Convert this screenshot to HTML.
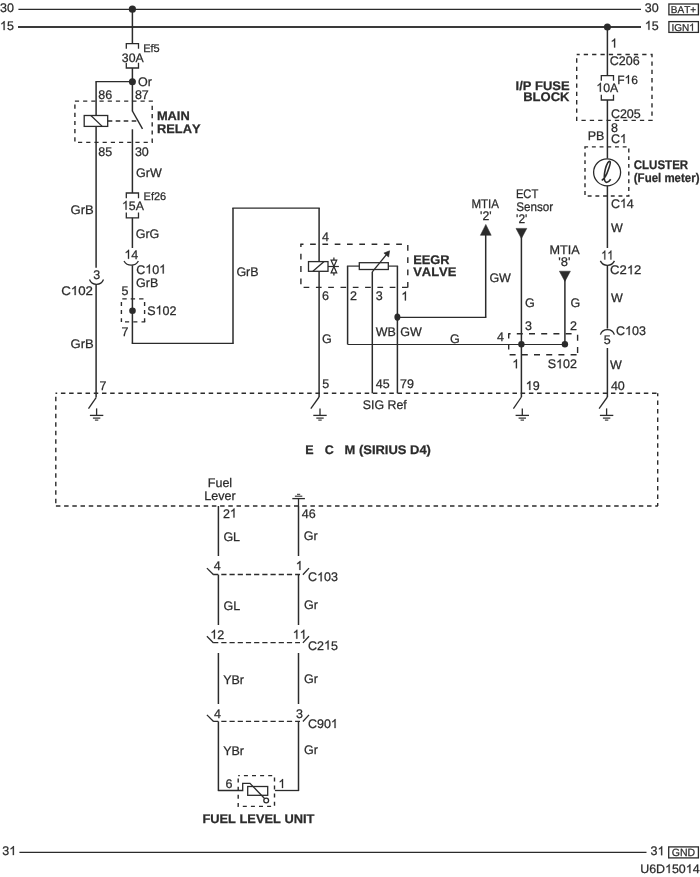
<!DOCTYPE html>
<html><head><meta charset="utf-8"><title>Wiring diagram</title>
<style>
html,body{margin:0;padding:0;background:#fff;}
svg{display:block;will-change:transform;filter:grayscale(1)}
text{font-family:"Liberation Sans",sans-serif;fill:#2b2b2b;stroke:#2b2b2b;stroke-width:0.25px;font-kerning:none;text-rendering:geometricPrecision}
</style></head><body>
<svg width="700" height="877" viewBox="0 0 700 877" stroke="#2b2b2b" fill="none">
<rect x="0" y="0" width="700" height="877" fill="#fff" stroke="none"/>
<line x1="18.4" y1="9.3" x2="641" y2="9.3" stroke-width="1.3"/>
<line x1="18" y1="27" x2="641" y2="27" stroke-width="2.0" stroke="#3a3a3a"/>
<line x1="19.4" y1="852.3" x2="646.5" y2="852.3" stroke-width="1.3"/>
<text x="0" y="12.4" font-size="12.5">30</text>
<g transform="translate(0,30.1)"><path transform="translate(0.0,0) scale(0.0125,-0.0125)" d="M372.6,0 L284.7,0 L284.7,560 Q252.9,529.8 201.4,499.5 Q149.9,469.2 108.9,454.1 L108.9,539 Q182.6,573.7 237.8,623 Q293,672.4 315.9,718.8 L372.6,718.8 Z" fill="#2b2b2b" stroke="#2b2b2b" stroke-width="20.0"/><text x="6.95" y="0" font-size="12.5">5</text></g>
<g transform="translate(2.3,855.1)"><text x="0.0" y="0" font-size="12.5">3</text><path transform="translate(6.95,0) scale(0.0125,-0.0125)" d="M372.6,0 L284.7,0 L284.7,560 Q252.9,529.8 201.4,499.5 Q149.9,469.2 108.9,454.1 L108.9,539 Q182.6,573.7 237.8,623 Q293,672.4 315.9,718.8 L372.6,718.8 Z" fill="#2b2b2b" stroke="#2b2b2b" stroke-width="20.0"/></g>
<text x="644.8" y="12.0" font-size="12.5">30</text>
<g transform="translate(644.8,29.8)"><path transform="translate(0.0,0) scale(0.0125,-0.0125)" d="M372.6,0 L284.7,0 L284.7,560 Q252.9,529.8 201.4,499.5 Q149.9,469.2 108.9,454.1 L108.9,539 Q182.6,573.7 237.8,623 Q293,672.4 315.9,718.8 L372.6,718.8 Z" fill="#2b2b2b" stroke="#2b2b2b" stroke-width="20.0"/><text x="6.95" y="0" font-size="12.5">5</text></g>
<g transform="translate(650.6,855.2)"><text x="0.0" y="0" font-size="12.5">3</text><path transform="translate(6.95,0) scale(0.0125,-0.0125)" d="M372.6,0 L284.7,0 L284.7,560 Q252.9,529.8 201.4,499.5 Q149.9,469.2 108.9,454.1 L108.9,539 Q182.6,573.7 237.8,623 Q293,672.4 315.9,718.8 L372.6,718.8 Z" fill="#2b2b2b" stroke="#2b2b2b" stroke-width="20.0"/></g>
<rect x="668.9" y="4" width="29.5" height="10.8" fill="none" stroke-width="1.3"/>
<text x="670.8" y="13.0" font-size="10">BAT+</text>
<rect x="668.9" y="21.6" width="29.5" height="10.8" fill="none" stroke-width="1.3"/>
<g transform="translate(671.4,30.7)"><text x="0.0" y="0" font-size="10">IGN</text><path transform="translate(17.78,0) scale(0.01,-0.01)" d="M372.6,0 L284.7,0 L284.7,560 Q252.9,529.8 201.4,499.5 Q149.9,469.2 108.9,454.1 L108.9,539 Q182.6,573.7 237.8,623 Q293,672.4 315.9,718.8 L372.6,718.8 Z" fill="#2b2b2b" stroke="#2b2b2b" stroke-width="25.0"/></g>
<rect x="668.7" y="846.9" width="29.7" height="11.0" fill="none" stroke-width="1.3"/>
<text x="671.8" y="856.1" font-size="10.5">GND</text>
<g transform="translate(640.2,873.1) scale(1.01,1)"><text x="0.0" y="0" font-size="12.3">U6D</text><path transform="translate(24.61,0) scale(0.0123,-0.0123)" d="M372.6,0 L284.7,0 L284.7,560 Q252.9,529.8 201.4,499.5 Q149.9,469.2 108.9,454.1 L108.9,539 Q182.6,573.7 237.8,623 Q293,672.4 315.9,718.8 L372.6,718.8 Z" fill="#2b2b2b" stroke="#2b2b2b" stroke-width="20.3"/><text x="31.45" y="0" font-size="12.3">50</text><path transform="translate(45.13,0) scale(0.0123,-0.0123)" d="M372.6,0 L284.7,0 L284.7,560 Q252.9,529.8 201.4,499.5 Q149.9,469.2 108.9,454.1 L108.9,539 Q182.6,573.7 237.8,623 Q293,672.4 315.9,718.8 L372.6,718.8 Z" fill="#2b2b2b" stroke="#2b2b2b" stroke-width="20.3"/><text x="51.97" y="0" font-size="12.3">4</text></g>
<circle cx="132.4" cy="9.2" r="3.6" fill="#2b2b2b" stroke="none"/>
<line x1="132.4" y1="9.2" x2="132.4" y2="43.6" stroke-width="1.5"/>
<path d="M126.30000000000001,48.800000000000004 V43.6 H138.5 V48.800000000000004" stroke-width="1.3" fill="none"/>
<path d="M126.30000000000001,62.8 V68 H138.5 V62.8" stroke-width="1.3" fill="none"/>
<text x="121.8" y="61.5" font-size="12.3">30A</text>
<text x="143.2" y="51.5" font-size="11">Ef5</text>
<line x1="132.4" y1="68" x2="132.4" y2="111.3" stroke-width="1.5"/>
<circle cx="132.4" cy="81.7" r="3.5" fill="#2b2b2b" stroke="none"/>
<text x="138" y="85.7" font-size="12.5">Or</text>
<line x1="95.39999999999999" y1="81.7" x2="132.4" y2="81.7" stroke-width="1.3"/>
<line x1="96.1" y1="81.7" x2="96.1" y2="267.8" stroke-width="1.5"/>
<text x="98.3" y="98.5" font-size="12.5">86</text>
<text x="134.9" y="98.5" font-size="12.5">87</text>
<rect x="74.9" y="101.1" width="77.3" height="41.3" fill="none" stroke-width="1.4" stroke-dasharray="4.2 4" stroke-dashoffset="0"/>
<rect x="84.2" y="115.5" width="23.5" height="10.9" fill="#fff" stroke-width="1.3"/>
<line x1="90.9" y1="115.5" x2="102.2" y2="126.4" stroke-width="1.3"/>
<line x1="107.7" y1="121" x2="137.5" y2="121" stroke-width="1.3" stroke-dasharray="4.6 3.4"/>
<line x1="132.4" y1="111" x2="142.5" y2="128.9" stroke-width="1.45"/>
<line x1="132.4" y1="129.3" x2="132.4" y2="193" stroke-width="1.5"/>
<g transform="translate(156.9,120.4) scale(1.0269,1)"><text x="0.0" y="0" font-size="12.5" font-weight="bold">MAIN</text></g>
<g transform="translate(156.9,133.2) scale(1.0292,1)"><text x="0.0" y="0" font-size="12.5" font-weight="bold">RELAY</text></g>
<text x="98.3" y="155.7" font-size="12.5">85</text>
<text x="134.9" y="155.7" font-size="12.5">30</text>
<text x="136" y="176.9" font-size="12.5">GrW</text>
<path d="M126.30000000000001,198.2 V193 H138.5 V198.2" stroke-width="1.3" fill="none"/>
<path d="M126.30000000000001,212.60000000000002 V217.8 H138.5 V212.60000000000002" stroke-width="1.3" fill="none"/>
<g transform="translate(122,209.7)"><path transform="translate(0.0,0) scale(0.0123,-0.0123)" d="M372.6,0 L284.7,0 L284.7,560 Q252.9,529.8 201.4,499.5 Q149.9,469.2 108.9,454.1 L108.9,539 Q182.6,573.7 237.8,623 Q293,672.4 315.9,718.8 L372.6,718.8 Z" fill="#2b2b2b" stroke="#2b2b2b" stroke-width="20.3"/><text x="6.84" y="0" font-size="12.3">5A</text></g>
<text x="143.6" y="200.3" font-size="11">Ef26</text>
<line x1="132.4" y1="217.8" x2="132.4" y2="248" stroke-width="1.5"/>
<g transform="translate(70.6,214.0) scale(1.044,1)"><text x="0.0" y="0" font-size="12.5">GrB</text></g>
<text x="135.7" y="237.7" font-size="12.5">GrG</text>
<g transform="translate(124.4,258.8)"><path transform="translate(0.0,0) scale(0.0125,-0.0125)" d="M372.6,0 L284.7,0 L284.7,560 Q252.9,529.8 201.4,499.5 Q149.9,469.2 108.9,454.1 L108.9,539 Q182.6,573.7 237.8,623 Q293,672.4 315.9,718.8 L372.6,718.8 Z" fill="#2b2b2b" stroke="#2b2b2b" stroke-width="20.0"/><text x="6.95" y="0" font-size="12.5">4</text></g>
<path d="M124,261 A8.3 8.3 0 0 0 138.4,261" stroke-width="1.3" fill="none"/>
<line x1="132.4" y1="265.2" x2="132.4" y2="343.4" stroke-width="1.5"/>
<g transform="translate(136.2,273.5)"><text x="0.0" y="0" font-size="12.5">C</text><path transform="translate(9.03,0) scale(0.0125,-0.0125)" d="M372.6,0 L284.7,0 L284.7,560 Q252.9,529.8 201.4,499.5 Q149.9,469.2 108.9,454.1 L108.9,539 Q182.6,573.7 237.8,623 Q293,672.4 315.9,718.8 L372.6,718.8 Z" fill="#2b2b2b" stroke="#2b2b2b" stroke-width="20.0"/><text x="15.98" y="0" font-size="12.5">0</text><path transform="translate(22.93,0) scale(0.0125,-0.0125)" d="M372.6,0 L284.7,0 L284.7,560 Q252.9,529.8 201.4,499.5 Q149.9,469.2 108.9,454.1 L108.9,539 Q182.6,573.7 237.8,623 Q293,672.4 315.9,718.8 L372.6,718.8 Z" fill="#2b2b2b" stroke="#2b2b2b" stroke-width="20.0"/></g>
<text x="136" y="286.9" font-size="12.5">GrB</text>
<text x="121.4" y="294.9" font-size="12.5">5</text>
<line x1="121.3" y1="298.9" x2="144.6" y2="298.9" stroke-width="1.4" stroke-dasharray="4.4 4" stroke-dashoffset="7.4"/>
<line x1="144.6" y1="298.9" x2="144.6" y2="322" stroke-width="1.4" stroke-dasharray="4 4.1" stroke-dashoffset="5"/>
<line x1="121.3" y1="321.9" x2="145.2" y2="321.9" stroke-width="1.4" stroke-dasharray="4.15 4.1" stroke-dashoffset="4.55"/>
<line x1="121.4" y1="298.9" x2="121.4" y2="322" stroke-width="1.4" stroke-dasharray="4 4.1" stroke-dashoffset="5"/>
<circle cx="132.5" cy="310.7" r="3.3" fill="#2b2b2b" stroke="none"/>
<g transform="translate(147.2,314.6)"><text x="0.0" y="0" font-size="12.5">S</text><path transform="translate(8.34,0) scale(0.0125,-0.0125)" d="M372.6,0 L284.7,0 L284.7,560 Q252.9,529.8 201.4,499.5 Q149.9,469.2 108.9,454.1 L108.9,539 Q182.6,573.7 237.8,623 Q293,672.4 315.9,718.8 L372.6,718.8 Z" fill="#2b2b2b" stroke="#2b2b2b" stroke-width="20.0"/><text x="15.29" y="0" font-size="12.5">02</text></g>
<text x="121.4" y="336.3" font-size="12.5">7</text>
<line x1="131.70000000000002" y1="343.4" x2="233.7" y2="343.4" stroke-width="1.2"/>
<line x1="233" y1="343.4" x2="233" y2="208.1" stroke-width="1.5"/>
<line x1="232.3" y1="208.1" x2="319.8" y2="208.1" stroke-width="1.2"/>
<line x1="319.1" y1="208.1" x2="319.1" y2="397" stroke-width="1.5"/>
<text x="93.3" y="279.3" font-size="12.5">3</text>
<path d="M89.5,279.5 A7.5 7.5 0 0 0 103.5,279.5" stroke-width="1.3" fill="none"/>
<g transform="translate(61.2,295.1) scale(1.0641,1)"><text x="0.0" y="0" font-size="12.5">C</text><path transform="translate(9.03,0) scale(0.0125,-0.0125)" d="M372.6,0 L284.7,0 L284.7,560 Q252.9,529.8 201.4,499.5 Q149.9,469.2 108.9,454.1 L108.9,539 Q182.6,573.7 237.8,623 Q293,672.4 315.9,718.8 L372.6,718.8 Z" fill="#2b2b2b" stroke="#2b2b2b" stroke-width="20.0"/><text x="15.98" y="0" font-size="12.5">02</text></g>
<line x1="96.1" y1="284.5" x2="96.1" y2="397.6" stroke-width="1.5"/>
<g transform="translate(70.6,348.3) scale(1.044,1)"><text x="0.0" y="0" font-size="12.5">GrB</text></g>
<text x="99.4" y="390.0" font-size="12.5">7</text>
<line x1="96.1" y1="397.6" x2="88.5" y2="408.6" stroke-width="1.3"/>
<line x1="96.6" y1="408.4" x2="96.6" y2="415.4" stroke-width="1.3"/>
<line x1="89.89999999999999" y1="415.4" x2="103.3" y2="415.4" stroke-width="1.3"/>
<line x1="92.89999999999999" y1="418.09999999999997" x2="100.3" y2="418.09999999999997" stroke-width="1.2"/>
<line x1="94.89999999999999" y1="420.09999999999997" x2="98.3" y2="420.09999999999997" stroke-width="1.1"/>
<line x1="55.5" y1="393.3" x2="657.9" y2="393.3" stroke-width="1.4" stroke-dasharray="4.5 3.71" stroke-dashoffset="2.8"/>
<line x1="55.9" y1="506" x2="657.9" y2="506" stroke-width="1.4" stroke-dasharray="4.5 3.71"/>
<line x1="657.7" y1="393.2" x2="657.7" y2="506" stroke-width="1.4" stroke-dasharray="4.5 4.06" stroke-dashoffset="1.36"/>
<line x1="55.8" y1="393.2" x2="55.8" y2="506" stroke-width="1.4" stroke-dasharray="4.5 4" stroke-dashoffset="5"/>
<text x="305.3" y="454.1" font-size="12.5" font-weight="bold">E</text>
<text x="324.7" y="454.1" font-size="12.5" font-weight="bold">C</text>
<g transform="translate(344.6,454.1) scale(1.0355,1)"><text x="0.0" y="0" font-size="12.5" font-weight="bold">M (SIRIUS D4)</text></g>
<g transform="translate(362.8,408.7) scale(0.9897,1)"><text x="0.0" y="0" font-size="12.5">SIG Ref</text></g>
<text x="322" y="241.2" font-size="12.5">4</text>
<text x="322" y="300.4" font-size="12.5">6</text>
<text x="322" y="343.1" font-size="12.5">G</text>
<line x1="300.3" y1="244.3" x2="407.8" y2="244.3" stroke-width="1.4" stroke-dasharray="5.7 6.6" stroke-dashoffset="2.5"/>
<line x1="407.8" y1="244.3" x2="407.8" y2="287.6" stroke-width="1.4" stroke-dasharray="5.7 6.6" stroke-dashoffset="11.6"/>
<line x1="300.9" y1="287.4" x2="408.4" y2="287.4" stroke-width="1.4" stroke-dasharray="5.7 6.6" stroke-dashoffset="9.6"/>
<line x1="300.9" y1="244.3" x2="300.9" y2="287.4" stroke-width="1.4" stroke-dasharray="5.8 6.6" stroke-dashoffset="3.0"/>
<rect x="308.5" y="261.6" width="19.5" height="9.7" fill="#fff" stroke-width="1.3"/>
<line x1="312.9" y1="271.3" x2="324.1" y2="261.6" stroke-width="1.3"/>
<line x1="328" y1="266.5" x2="338.9" y2="266.5" stroke-width="1.2"/>
<path d="M331.1,260.2 H336.7 L333.9,266.5 Z M331.1,272.9 H336.7 L333.9,266.5 Z M333.9,260.2 V257.5 M333.9,272.9 V275.6" stroke-width="1.25" fill="none"/>
<line x1="319.1" y1="397" x2="310.8" y2="408.6" stroke-width="1.3"/>
<line x1="320" y1="408.4" x2="320" y2="415.4" stroke-width="1.3"/>
<line x1="313.3" y1="415.4" x2="326.7" y2="415.4" stroke-width="1.3"/>
<line x1="316.3" y1="418.09999999999997" x2="323.7" y2="418.09999999999997" stroke-width="1.2"/>
<line x1="318.3" y1="420.09999999999997" x2="321.7" y2="420.09999999999997" stroke-width="1.1"/>
<text x="322.3" y="388.2" font-size="12.5">5</text>
<text x="236.4" y="276.4" font-size="12.5">GrB</text>
<line x1="347.6" y1="344.4" x2="347.6" y2="266.1" stroke-width="1.5"/>
<line x1="346.9" y1="266.1" x2="359.3" y2="266.1" stroke-width="1.2"/>
<rect x="359.3" y="262.7" width="29.0" height="6.8" fill="#fff" stroke-width="1.3"/>
<line x1="388.3" y1="266.1" x2="398.1" y2="266.1" stroke-width="1.2"/>
<line x1="397.4" y1="266.1" x2="397.4" y2="393.3" stroke-width="1.5"/>
<line x1="372.3" y1="271.8" x2="372.3" y2="393.3" stroke-width="1.5"/>
<line x1="372.3" y1="271.8" x2="387.5" y2="253.3" stroke-width="1.3"/>
<path d="M389.6,250.8 L388.6,257 L383.9,253.1 Z" stroke-width="0.6" fill="#2b2b2b"/>
<text x="349.9" y="300.4" font-size="12.5">2</text>
<text x="375.7" y="300.4" font-size="12.5">3</text>
<g transform="translate(401.3,300.4)"><path transform="translate(0.0,0) scale(0.0125,-0.0125)" d="M372.6,0 L284.7,0 L284.7,560 Q252.9,529.8 201.4,499.5 Q149.9,469.2 108.9,454.1 L108.9,539 Q182.6,573.7 237.8,623 Q293,672.4 315.9,718.8 L372.6,718.8 Z" fill="#2b2b2b" stroke="#2b2b2b" stroke-width="20.0"/></g>
<ellipse cx="397.4" cy="317.1" rx="3.0" ry="3.6" fill="#2b2b2b" stroke="none"/>
<line x1="397.4" y1="317.3" x2="486.4" y2="317.3" stroke-width="1.2"/>
<line x1="485.7" y1="317.3" x2="485.7" y2="234" stroke-width="1.5"/>
<path d="M485.8,224.4 L491.2,235.3 H480.4 Z" stroke-width="0.5" fill="#2b2b2b"/>
<text x="375.7" y="336.2" font-size="12.5">WB</text>
<text x="400.2" y="336.2" font-size="12.5">GW</text>
<line x1="347.6" y1="344.4" x2="564.9" y2="344.4" stroke-width="1.05"/>
<g transform="translate(413.2,263.5) scale(1.0275,1)"><text x="0.0" y="0" font-size="12.5" font-weight="bold">EEGR</text></g>
<g transform="translate(413.2,276.2) scale(1.0366,1)"><text x="0.0" y="0" font-size="12.5" font-weight="bold">VALVE</text></g>
<text x="375.7" y="388.2" font-size="12.5">45</text>
<text x="400" y="388.2" font-size="12.5">79</text>
<g transform="translate(471.4,208.3) scale(0.9244,1)"><text x="0.0" y="0" font-size="12.5">MTIA</text></g>
<g transform="translate(480.1,220.1) scale(0.9808,1)"><text x="0.0" y="0" font-size="12.5">'2'</text></g>
<text x="489.4" y="281.6" font-size="12.5">GW</text>
<g transform="translate(515.9,198.2) scale(0.896,1)"><text x="0.0" y="0" font-size="12.5">ECT</text></g>
<g transform="translate(516.2,211.4) scale(0.9342,1)"><text x="0.0" y="0" font-size="12.5">Sensor</text></g>
<g transform="translate(516.1,222.5) scale(0.9552,1)"><text x="0.0" y="0" font-size="12.5">'2'</text></g>
<path d="M516,228.4 H526.8 L521.4,238.6 Z" stroke-width="0.5" fill="#2b2b2b"/>
<line x1="521.4" y1="236" x2="521.4" y2="397" stroke-width="1.5"/>
<g transform="translate(549.4,254.4) scale(1.0114,1)"><text x="0.0" y="0" font-size="12.5">MTIA</text></g>
<g transform="translate(558.3,265.9) scale(1.0405,1)"><text x="0.0" y="0" font-size="12.5">'8'</text></g>
<path d="M559.4,271.2 H570.4 L564.9,281.4 Z" stroke-width="0.5" fill="#2b2b2b"/>
<line x1="564.9" y1="279" x2="564.9" y2="344.3" stroke-width="1.5"/>
<text x="524.9" y="307.3" font-size="12.5">G</text>
<text x="570.6" y="307.3" font-size="12.5">G</text>
<text x="524.9" y="329.6" font-size="12.5">3</text>
<text x="570" y="329.6" font-size="12.5">2</text>
<text x="497.1" y="341.2" font-size="12.5">4</text>
<text x="450" y="342.9" font-size="12.5">G</text>
<line x1="508.2" y1="333.8" x2="577.6" y2="333.8" stroke-width="1.4" stroke-dasharray="6 6.2" stroke-dashoffset="3.6"/>
<line x1="577.6" y1="333.8" x2="577.6" y2="354.8" stroke-width="1.4" stroke-dasharray="6 6.2" stroke-dashoffset="11.3"/>
<line x1="508.6" y1="354.8" x2="578" y2="354.8" stroke-width="1.5" stroke-dasharray="6 6.2" stroke-dashoffset="11.2"/>
<line x1="508.7" y1="333.8" x2="508.7" y2="354.8" stroke-width="1.4" stroke-dasharray="5 6" stroke-dashoffset="0.3"/>
<circle cx="521.4" cy="344.3" r="3.2" fill="#2b2b2b" stroke="none"/>
<circle cx="564.9" cy="344.3" r="3.2" fill="#2b2b2b" stroke="none"/>
<g transform="translate(512.3,368.3)"><path transform="translate(0.0,0) scale(0.0125,-0.0125)" d="M372.6,0 L284.7,0 L284.7,560 Q252.9,529.8 201.4,499.5 Q149.9,469.2 108.9,454.1 L108.9,539 Q182.6,573.7 237.8,623 Q293,672.4 315.9,718.8 L372.6,718.8 Z" fill="#2b2b2b" stroke="#2b2b2b" stroke-width="20.0"/></g>
<g transform="translate(547.7,368.3)"><text x="0.0" y="0" font-size="12.5">S</text><path transform="translate(8.34,0) scale(0.0125,-0.0125)" d="M372.6,0 L284.7,0 L284.7,560 Q252.9,529.8 201.4,499.5 Q149.9,469.2 108.9,454.1 L108.9,539 Q182.6,573.7 237.8,623 Q293,672.4 315.9,718.8 L372.6,718.8 Z" fill="#2b2b2b" stroke="#2b2b2b" stroke-width="20.0"/><text x="15.29" y="0" font-size="12.5">02</text></g>
<g transform="translate(525.7,389.9)"><path transform="translate(0.0,0) scale(0.0125,-0.0125)" d="M372.6,0 L284.7,0 L284.7,560 Q252.9,529.8 201.4,499.5 Q149.9,469.2 108.9,454.1 L108.9,539 Q182.6,573.7 237.8,623 Q293,672.4 315.9,718.8 L372.6,718.8 Z" fill="#2b2b2b" stroke="#2b2b2b" stroke-width="20.0"/><text x="6.95" y="0" font-size="12.5">9</text></g>
<line x1="521.4" y1="397" x2="513.4" y2="408.6" stroke-width="1.3"/>
<line x1="522.3" y1="408.4" x2="522.3" y2="415.4" stroke-width="1.3"/>
<line x1="515.5999999999999" y1="415.4" x2="529.0" y2="415.4" stroke-width="1.3"/>
<line x1="518.5999999999999" y1="418.09999999999997" x2="526.0" y2="418.09999999999997" stroke-width="1.2"/>
<line x1="520.5999999999999" y1="420.09999999999997" x2="524.0" y2="420.09999999999997" stroke-width="1.1"/>
<circle cx="607.4" cy="27" r="3.5" fill="#2b2b2b" stroke="none"/>
<line x1="607.4" y1="27" x2="607.4" y2="75.6" stroke-width="1.5"/>
<g transform="translate(610.5,47.5)"><path transform="translate(0.0,0) scale(0.0125,-0.0125)" d="M372.6,0 L284.7,0 L284.7,560 Q252.9,529.8 201.4,499.5 Q149.9,469.2 108.9,454.1 L108.9,539 Q182.6,573.7 237.8,623 Q293,672.4 315.9,718.8 L372.6,718.8 Z" fill="#2b2b2b" stroke="#2b2b2b" stroke-width="20.0"/></g>
<rect x="576.7" y="54.5" width="75.3" height="65.9" fill="none" stroke-width="1.4" stroke-dasharray="4.3 4.05" stroke-dashoffset="1.3"/>
<text x="609.8" y="65.1" font-size="12.5">C206</text>
<text x="610.9" y="118.0" font-size="12.5">C205</text>
<path d="M601.3,80.8 V75.6 H613.5 V80.8" stroke-width="1.3" fill="none"/>
<path d="M601.3,94.8 V100 H613.5 V94.8" stroke-width="1.3" fill="none"/>
<g transform="translate(596.3,91.7)"><path transform="translate(0.0,0) scale(0.0123,-0.0123)" d="M372.6,0 L284.7,0 L284.7,560 Q252.9,529.8 201.4,499.5 Q149.9,469.2 108.9,454.1 L108.9,539 Q182.6,573.7 237.8,623 Q293,672.4 315.9,718.8 L372.6,718.8 Z" fill="#2b2b2b" stroke="#2b2b2b" stroke-width="20.3"/><text x="6.84" y="0" font-size="12.3">0A</text></g>
<g transform="translate(617.2,83.7)"><text x="0.0" y="0" font-size="12">F</text><path transform="translate(7.33,0) scale(0.012,-0.012)" d="M372.6,0 L284.7,0 L284.7,560 Q252.9,529.8 201.4,499.5 Q149.9,469.2 108.9,454.1 L108.9,539 Q182.6,573.7 237.8,623 Q293,672.4 315.9,718.8 L372.6,718.8 Z" fill="#2b2b2b" stroke="#2b2b2b" stroke-width="20.8"/><text x="14.0" y="0" font-size="12">6</text></g>
<line x1="607.4" y1="100" x2="607.4" y2="158.6" stroke-width="1.5"/>
<g transform="translate(515.6,89.7) scale(1.0366,1)"><text x="0.0" y="0" font-size="12.5" font-weight="bold">I/P FUSE</text></g>
<g transform="translate(523.2,101.4) scale(1.0419,1)"><text x="0.0" y="0" font-size="12.5" font-weight="bold">BLOCK</text></g>
<text x="610.9" y="132.1" font-size="12.5">8</text>
<g transform="translate(610.9,143.1)"><text x="0.0" y="0" font-size="12.5">C</text><path transform="translate(9.03,0) scale(0.0125,-0.0125)" d="M372.6,0 L284.7,0 L284.7,560 Q252.9,529.8 201.4,499.5 Q149.9,469.2 108.9,454.1 L108.9,539 Q182.6,573.7 237.8,623 Q293,672.4 315.9,718.8 L372.6,718.8 Z" fill="#2b2b2b" stroke="#2b2b2b" stroke-width="20.0"/></g>
<text x="587.7" y="139.7" font-size="12.5">PB</text>
<rect x="585" y="146.9" width="43.8" height="49.1" fill="none" stroke-width="1.4" stroke-dasharray="3.9 3.8" stroke-dashoffset="0.8"/>
<circle cx="607.1" cy="172.3" r="13.5" fill="#fff" stroke-width="1.3"/>
<path d="M601.7,180.4 C604.5,178.9 606.8,174.5 608.3,169.8 C609.5,166 610.8,163.2 610.2,161.9 C609.7,160.9 608.5,161.5 607.7,162.9 C605.9,166.2 604.5,172.2 604.3,176.6 C604.1,180 605,182.4 606.6,182.4 C608,182.4 609.5,181.2 610.7,179.3" stroke-width="1.6" fill="none"/>
<g transform="translate(633.7,169.0) scale(0.9233,1)"><text x="0.0" y="0" font-size="12.5" font-weight="bold">CLUSTER</text></g>
<g transform="translate(633.8,182.2) scale(0.9184,1)"><text x="0.0" y="0" font-size="12.5" font-weight="bold">(Fuel meter)</text></g>
<line x1="607.4" y1="185.6" x2="607.4" y2="248" stroke-width="1.5"/>
<g transform="translate(610.9,207.7)"><text x="0.0" y="0" font-size="12.5">C</text><path transform="translate(9.03,0) scale(0.0125,-0.0125)" d="M372.6,0 L284.7,0 L284.7,560 Q252.9,529.8 201.4,499.5 Q149.9,469.2 108.9,454.1 L108.9,539 Q182.6,573.7 237.8,623 Q293,672.4 315.9,718.8 L372.6,718.8 Z" fill="#2b2b2b" stroke="#2b2b2b" stroke-width="20.0"/><text x="15.98" y="0" font-size="12.5">4</text></g>
<text x="610.9" y="232.0" font-size="12.5">W</text>
<g transform="translate(601.2,259.5) scale(0.8775,1)"><path transform="translate(0.0,0) scale(0.0125,-0.0125)" d="M372.6,0 L284.7,0 L284.7,560 Q252.9,529.8 201.4,499.5 Q149.9,469.2 108.9,454.1 L108.9,539 Q182.6,573.7 237.8,623 Q293,672.4 315.9,718.8 L372.6,718.8 Z" fill="#2b2b2b" stroke="#2b2b2b" stroke-width="20.0"/><path transform="translate(6.95,0) scale(0.0125,-0.0125)" d="M372.6,0 L284.7,0 L284.7,560 Q252.9,529.8 201.4,499.5 Q149.9,469.2 108.9,454.1 L108.9,539 Q182.6,573.7 237.8,623 Q293,672.4 315.9,718.8 L372.6,718.8 Z" fill="#2b2b2b" stroke="#2b2b2b" stroke-width="20.0"/></g>
<path d="M600.35,260.9 A7.8 7.8 0 0 0 614.4499999999999,260.9" stroke-width="1.3" fill="none"/>
<line x1="607.4" y1="265.4" x2="607.4" y2="328.6" stroke-width="1.5"/>
<g transform="translate(610.1,274.3) scale(1.0474,1)"><text x="0.0" y="0" font-size="12.5">C2</text><path transform="translate(15.98,0) scale(0.0125,-0.0125)" d="M372.6,0 L284.7,0 L284.7,560 Q252.9,529.8 201.4,499.5 Q149.9,469.2 108.9,454.1 L108.9,539 Q182.6,573.7 237.8,623 Q293,672.4 315.9,718.8 L372.6,718.8 Z" fill="#2b2b2b" stroke="#2b2b2b" stroke-width="20.0"/><text x="22.93" y="0" font-size="12.5">2</text></g>
<text x="610.9" y="301.5" font-size="12.5">W</text>
<path d="M600.4,334.6 A7.4 7.4 0 0 1 614.4,334.6" stroke-width="1.3" fill="none"/>
<text x="603.8" y="344.3" font-size="12.5">5</text>
<g transform="translate(616,335.1)"><text x="0.0" y="0" font-size="12.5">C</text><path transform="translate(9.03,0) scale(0.0125,-0.0125)" d="M372.6,0 L284.7,0 L284.7,560 Q252.9,529.8 201.4,499.5 Q149.9,469.2 108.9,454.1 L108.9,539 Q182.6,573.7 237.8,623 Q293,672.4 315.9,718.8 L372.6,718.8 Z" fill="#2b2b2b" stroke="#2b2b2b" stroke-width="20.0"/><text x="15.98" y="0" font-size="12.5">03</text></g>
<line x1="607.4" y1="348" x2="607.4" y2="397" stroke-width="1.5"/>
<text x="610" y="368.6" font-size="12.5">W</text>
<text x="610.9" y="390.2" font-size="12.5">40</text>
<line x1="607.4" y1="397" x2="599.1" y2="408.6" stroke-width="1.3"/>
<line x1="606.6" y1="408.4" x2="606.6" y2="415.4" stroke-width="1.3"/>
<line x1="599.9" y1="415.4" x2="613.3000000000001" y2="415.4" stroke-width="1.3"/>
<line x1="602.9" y1="418.09999999999997" x2="610.3000000000001" y2="418.09999999999997" stroke-width="1.2"/>
<line x1="604.9" y1="420.09999999999997" x2="608.3000000000001" y2="420.09999999999997" stroke-width="1.1"/>
<text x="207.84" y="487.0" font-size="12.5">Fuel</text>
<text x="204.37" y="499.8" font-size="12.5">Lever</text>
<line x1="298.5" y1="498.6" x2="298.5" y2="506" stroke-width="1.3"/>
<line x1="292.3" y1="498.6" x2="304.9" y2="498.6" stroke-width="1.3"/>
<line x1="294.9" y1="496.2" x2="302.3" y2="496.2" stroke-width="1.1"/>
<line x1="297" y1="494.3" x2="300.2" y2="494.3" stroke-width="1.0"/>
<g transform="translate(222.9,517.5)"><text x="0.0" y="0" font-size="12.5">2</text><path transform="translate(6.95,0) scale(0.0125,-0.0125)" d="M372.6,0 L284.7,0 L284.7,560 Q252.9,529.8 201.4,499.5 Q149.9,469.2 108.9,454.1 L108.9,539 Q182.6,573.7 237.8,623 Q293,672.4 315.9,718.8 L372.6,718.8 Z" fill="#2b2b2b" stroke="#2b2b2b" stroke-width="20.0"/></g>
<text x="301.8" y="517.5" font-size="12.5">46</text>
<line x1="218.4" y1="506" x2="218.4" y2="556" stroke-width="1.5"/>
<line x1="218.4" y1="574.7" x2="218.4" y2="625" stroke-width="1.5"/>
<line x1="218.4" y1="653" x2="218.4" y2="704" stroke-width="1.5"/>
<line x1="218.4" y1="721.4" x2="218.4" y2="791.1" stroke-width="1.5"/>
<line x1="298.5" y1="506" x2="298.5" y2="556" stroke-width="1.5"/>
<line x1="298.5" y1="574.7" x2="298.5" y2="625" stroke-width="1.5"/>
<line x1="298.5" y1="653" x2="298.5" y2="704" stroke-width="1.5"/>
<line x1="298.5" y1="721.4" x2="298.5" y2="791.1" stroke-width="1.5"/>
<text x="223.4" y="541.2" font-size="12.5">GL</text>
<text x="303.7" y="539.7" font-size="12.5">Gr</text>
<text x="223.6" y="610.0" font-size="12.5">GL</text>
<text x="304" y="608.6" font-size="12.5">Gr</text>
<text x="223.2" y="683.8" font-size="12.5">YBr</text>
<text x="304" y="682.8" font-size="12.5">Gr</text>
<text x="223.2" y="754.6" font-size="12.5">YBr</text>
<text x="304" y="753.6" font-size="12.5">Gr</text>
<line x1="206.9" y1="568.1" x2="213.3" y2="574.5" stroke-width="1.3"/>
<line x1="213.1" y1="574.5" x2="300" y2="574.5" stroke-width="1.3" stroke-dasharray="5.2 3"/>
<line x1="302.9" y1="574.7" x2="309" y2="568.1" stroke-width="1.3"/>
<g transform="translate(308,581.3)"><text x="0.0" y="0" font-size="12.5">C</text><path transform="translate(9.03,0) scale(0.0125,-0.0125)" d="M372.6,0 L284.7,0 L284.7,560 Q252.9,529.8 201.4,499.5 Q149.9,469.2 108.9,454.1 L108.9,539 Q182.6,573.7 237.8,623 Q293,672.4 315.9,718.8 L372.6,718.8 Z" fill="#2b2b2b" stroke="#2b2b2b" stroke-width="20.0"/><text x="15.98" y="0" font-size="12.5">03</text></g>
<line x1="206.9" y1="636.3000000000001" x2="213.3" y2="642.7" stroke-width="1.3"/>
<line x1="213.1" y1="642.7" x2="300" y2="642.7" stroke-width="1.3" stroke-dasharray="5.2 3"/>
<line x1="302.9" y1="642.9000000000001" x2="309" y2="636.3000000000001" stroke-width="1.3"/>
<g transform="translate(308,649.5)"><text x="0.0" y="0" font-size="12.5">C2</text><path transform="translate(15.98,0) scale(0.0125,-0.0125)" d="M372.6,0 L284.7,0 L284.7,560 Q252.9,529.8 201.4,499.5 Q149.9,469.2 108.9,454.1 L108.9,539 Q182.6,573.7 237.8,623 Q293,672.4 315.9,718.8 L372.6,718.8 Z" fill="#2b2b2b" stroke="#2b2b2b" stroke-width="20.0"/><text x="22.93" y="0" font-size="12.5">5</text></g>
<line x1="206.9" y1="714.9" x2="213.3" y2="721.3" stroke-width="1.3"/>
<line x1="213.1" y1="721.3" x2="300" y2="721.3" stroke-width="1.3" stroke-dasharray="5.2 3"/>
<line x1="302.9" y1="721.5" x2="309" y2="714.9" stroke-width="1.3"/>
<g transform="translate(308,728.1)"><text x="0.0" y="0" font-size="12.5">C90</text><path transform="translate(22.93,0) scale(0.0125,-0.0125)" d="M372.6,0 L284.7,0 L284.7,560 Q252.9,529.8 201.4,499.5 Q149.9,469.2 108.9,454.1 L108.9,539 Q182.6,573.7 237.8,623 Q293,672.4 315.9,718.8 L372.6,718.8 Z" fill="#2b2b2b" stroke="#2b2b2b" stroke-width="20.0"/></g>
<text x="213.7" y="569.7" font-size="12.5">4</text>
<g transform="translate(295.8,569.9)"><path transform="translate(0.0,0) scale(0.0125,-0.0125)" d="M372.6,0 L284.7,0 L284.7,560 Q252.9,529.8 201.4,499.5 Q149.9,469.2 108.9,454.1 L108.9,539 Q182.6,573.7 237.8,623 Q293,672.4 315.9,718.8 L372.6,718.8 Z" fill="#2b2b2b" stroke="#2b2b2b" stroke-width="20.0"/></g>
<g transform="translate(210.3,638.7)"><path transform="translate(0.0,0) scale(0.0125,-0.0125)" d="M372.6,0 L284.7,0 L284.7,560 Q252.9,529.8 201.4,499.5 Q149.9,469.2 108.9,454.1 L108.9,539 Q182.6,573.7 237.8,623 Q293,672.4 315.9,718.8 L372.6,718.8 Z" fill="#2b2b2b" stroke="#2b2b2b" stroke-width="20.0"/><text x="6.95" y="0" font-size="12.5">2</text></g>
<g transform="translate(292.7,638.7)"><path transform="translate(0.0,0) scale(0.0125,-0.0125)" d="M372.6,0 L284.7,0 L284.7,560 Q252.9,529.8 201.4,499.5 Q149.9,469.2 108.9,454.1 L108.9,539 Q182.6,573.7 237.8,623 Q293,672.4 315.9,718.8 L372.6,718.8 Z" fill="#2b2b2b" stroke="#2b2b2b" stroke-width="20.0"/><path transform="translate(6.95,0) scale(0.0125,-0.0125)" d="M372.6,0 L284.7,0 L284.7,560 Q252.9,529.8 201.4,499.5 Q149.9,469.2 108.9,454.1 L108.9,539 Q182.6,573.7 237.8,623 Q293,672.4 315.9,718.8 L372.6,718.8 Z" fill="#2b2b2b" stroke="#2b2b2b" stroke-width="20.0"/></g>
<text x="214" y="717.6" font-size="12.5">4</text>
<text x="296" y="717.6" font-size="12.5">3</text>
<path d="M218.4,790.5 H242.7 V783.3 H250 L264.3,798.3" stroke-width="1.3" fill="none"/>
<path d="M298.5,790.5 H274.9" stroke-width="1.3" fill="none"/>
<rect x="247.7" y="786.5" width="20.0" height="8.8" fill="none" stroke-width="1.3"/>
<circle cx="266.2" cy="800.5" r="2.4" fill="#fff" stroke-width="1.3"/>
<rect x="238.2" y="775.6" width="36.3" height="30.8" fill="none" stroke-width="1.4" stroke-dasharray="4 4.1" stroke-dashoffset="2.4"/>
<text x="225.6" y="788.0" font-size="12.5">6</text>
<g transform="translate(278.4,788.0)"><path transform="translate(0.0,0) scale(0.0125,-0.0125)" d="M372.6,0 L284.7,0 L284.7,560 Q252.9,529.8 201.4,499.5 Q149.9,469.2 108.9,454.1 L108.9,539 Q182.6,573.7 237.8,623 Q293,672.4 315.9,718.8 L372.6,718.8 Z" fill="#2b2b2b" stroke="#2b2b2b" stroke-width="20.0"/></g>
<g transform="translate(202.4,823.1) scale(1.0273,1)"><text x="0.0" y="0" font-size="12.5" font-weight="bold">FUEL LEVEL UNIT</text></g>
</svg>
</body></html>
